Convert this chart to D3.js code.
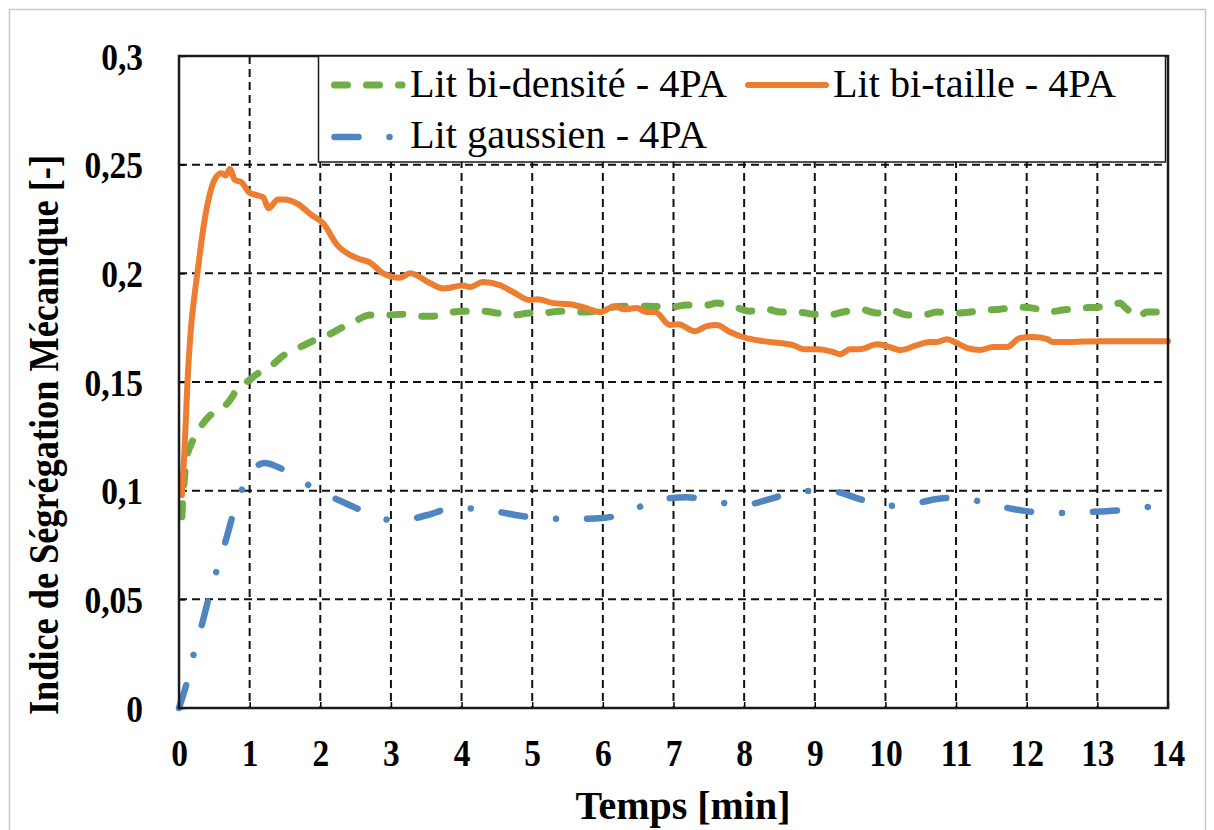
<!DOCTYPE html>
<html><head><meta charset="utf-8">
<script src="https://cdn.jsdelivr.net/npm/d3@7"></script>
<style>
body{margin:0;background:#fff}
svg{display:block}
text{font-family:"Liberation Serif","Times New Roman",serif;fill:#000}
</style>
</head><body>
<svg id="c" width="1214" height="830"></svg>
<script>
// ---- data ----
const xTicks = [0,1,2,3,4,5,6,7,8,9,10,11,12,13,14];
const yTicks = [0,0.05,0.1,0.15,0.2,0.25,0.3];
const yTickLabels = ["0","0,05","0,1","0,15","0,2","0,25","0,3"];
const seriesNames = ["Lit bi-densité - 4PA","Lit bi-taille - 4PA","Lit gaussien - 4PA"];

const bidensiteT = [0.04,0.07,0.11,0.18,0.3,0.42,0.55,0.68,0.75,0.82,0.96,1.12,1.29,1.47,1.68,1.9,2.11,2.32,2.52,2.7,2.94,3.17,3.41,3.6,3.84,4.02,4.3,4.5,4.73,4.97,5.15,5.39,5.63,5.78,6.06,6.29,6.67,6.95,7.19,7.47,7.61,7.84,8.08,8.32,8.51,8.75,8.98,9.19,9.4,9.64,9.88,10.07,10.31,10.53,10.73,10.96,11.2,11.44,11.62,11.86,12.09,12.29,12.51,12.75,13.0,13.18,13.32,13.39,13.58,13.7,14.0];
const bidensiteV = [0.088,0.103,0.115,0.122,0.129,0.134,0.137,0.140,0.143,0.147,0.150,0.154,0.157,0.162,0.1655,0.169,0.1716,0.1753,0.1785,0.1808,0.1808,0.1812,0.1803,0.1803,0.182,0.1826,0.1826,0.1817,0.1808,0.1817,0.1817,0.1826,0.1822,0.1822,0.184,0.1849,0.1849,0.1844,0.1854,0.1854,0.1863,0.1849,0.1826,0.1835,0.1822,0.1822,0.1812,0.1808,0.1822,0.1835,0.1817,0.1831,0.1808,0.1808,0.1822,0.1817,0.1822,0.1831,0.1835,0.1844,0.184,0.1822,0.1831,0.184,0.1844,0.1849,0.1863,0.1844,0.1799,0.1822,0.1822];

const bitailleT = [0.04,0.08,0.12,0.17,0.22,0.28,0.35,0.44,0.52,0.6,0.66,0.72,0.79,0.88,1.0,1.1,1.19,1.27,1.4,1.48,1.68,1.87,2.04,2.24,2.52,2.7,2.89,3.13,3.27,3.55,3.74,4.02,4.12,4.3,4.54,4.73,4.97,5.07,5.3,5.53,5.72,5.96,6.17,6.29,6.48,6.62,6.74,6.95,7.07,7.3,7.47,7.61,7.8,7.98,8.27,8.51,8.69,8.84,9.05,9.26,9.36,9.5,9.64,9.88,10.02,10.21,10.45,10.63,10.73,10.87,11.01,11.16,11.34,11.52,11.72,11.9,12.09,12.29,12.37,12.57,13.04,14.0];
const bitailleV = [0.098,0.12,0.15,0.175,0.19,0.205,0.222,0.237,0.244,0.246,0.245,0.248,0.243,0.242,0.237,0.236,0.235,0.230,0.234,0.234,0.232,0.227,0.223,0.213,0.207,0.205,0.200,0.198,0.200,0.1955,0.193,0.1944,0.1937,0.196,0.1946,0.1914,0.1877,0.1881,0.1863,0.1858,0.1844,0.1822,0.1849,0.1835,0.184,0.1822,0.1822,0.1762,0.1766,0.1734,0.1757,0.1762,0.173,0.1707,0.1688,0.1679,0.167,0.1651,0.1651,0.1638,0.1628,0.1651,0.1651,0.1674,0.1665,0.1647,0.167,0.1684,0.1684,0.1697,0.1679,0.1656,0.1647,0.1661,0.1661,0.1702,0.1707,0.1697,0.1684,0.1684,0.1688,0.1688];

const gaussienT = [0,0.11,0.21,0.33,0.42,0.54,0.67,0.77,0.92,1.05,1.22,1.39,1.57,1.93,2.32,2.68,3.09,3.52,3.88,4.3,4.76,5.11,5.55,6.0,6.34,6.77,7.19,7.55,7.98,8.41,8.76,9.22,9.64,9.99,10.43,10.87,11.23,11.66,12.09,12.47,12.91,13.35,13.72,14.0];
const gaussienV = [0,0.0115,0.025,0.039,0.0506,0.064,0.078,0.0897,0.1026,0.110,0.1127,0.111,0.108,0.1007,0.0948,0.0897,0.086,0.0888,0.092,0.0915,0.0888,0.0874,0.087,0.0874,0.090,0.0957,0.097,0.0952,0.0934,0.0966,0.0998,0.0998,0.0961,0.0929,0.0943,0.0966,0.0957,0.0925,0.0902,0.0897,0.0902,0.0911,0.0925,0.093];

// ---- layout ----
const L = 179, R = 1168, T = 56, B = 708;
const svg = d3.select("#c");
const x = d3.scaleLinear().domain([0,14]).range([L,R]);
const y = d3.scaleLinear().domain([0,0.3]).range([B,T]);

const colors = {green:"#70AD47", orange:"#ED7D31", blue:"#4F86C1"};
const styles = [
  {t:bidensiteT, v:bidensiteV, color:colors.green, width:7, dash:"13,19"},
  {t:bitailleT, v:bitailleV, color:colors.orange, width:6, dash:null},
  {t:gaussienT, v:gaussienV, color:colors.blue, width:6.5, dash:"24,31,0.01,31"}
];

function condense(sel, f){
  sel.each(function(){
    const w = this.getComputedTextLength();
    d3.select(this).attr("textLength", w*f).attr("lengthAdjust","spacingAndGlyphs");
  });
}

// outer frame
svg.append("rect").attr("x",9.5).attr("y",9.5).attr("width",1196).attr("height",830)
  .attr("fill","none").attr("stroke","#c8c8c8").attr("stroke-width",1.5);

// gridlines
const grid = svg.append("g");
grid.selectAll("line.v").data(xTicks.slice(1,-1)).join("line")
  .attr("x1",d=>x(d)).attr("x2",d=>x(d)).attr("y1",T).attr("y2",B)
  .attr("stroke","#111").attr("stroke-width",2).attr("stroke-dasharray","8,5");
grid.selectAll("line.h").data(yTicks.slice(1,-1)).join("line")
  .attr("x1",L).attr("x2",R).attr("y1",d=>y(d)).attr("y2",d=>y(d))
  .attr("stroke","#111").attr("stroke-width",2).attr("stroke-dasharray","8,5");

// axes
const xAxis = svg.append("g").attr("transform",`translate(0,${B})`)
  .call(d3.axisBottom(x).tickValues(xTicks).tickFormat(d=>d).tickSize(-6).tickPadding(0));
xAxis.select(".domain").remove();
xAxis.selectAll("line").attr("stroke","#000").attr("stroke-width",1.5);
xAxis.selectAll("text").attr("y",58).attr("dy",0)
  .attr("font-size",38).attr("font-weight","bold").attr("fill","#000")
  .style("font-family",'"Liberation Serif","Times New Roman",serif')
  .call(condense, 0.88);

const yAxis = svg.append("g").attr("transform",`translate(${L},0)`)
  .call(d3.axisLeft(y).tickValues(yTicks).tickFormat((d,i)=>yTickLabels[i]).tickSize(-6).tickPadding(36));
yAxis.select(".domain").remove();
yAxis.selectAll("line").attr("stroke","#000").attr("stroke-width",1.5);
yAxis.selectAll("text").attr("x",-36).attr("dy","0.35em")
  .attr("font-size",38).attr("font-weight","bold").attr("fill","#000")
  .style("font-family",'"Liberation Serif","Times New Roman",serif')
  .call(condense, 0.88);

// series
const line = d3.line().x(d=>x(d[0])).y(d=>y(d[1])).curve(d3.curveMonotoneX);
const plot = svg.append("g");
styles.forEach(s=>{
  const pts = s.t.map((t,i)=>[t,s.v[i]]);
  plot.append("path").attr("d",line(pts)).attr("fill","none")
    .attr("stroke",s.color).attr("stroke-width",s.width)
    .attr("stroke-linecap","round").attr("stroke-linejoin","round")
    .attr("stroke-dasharray",s.dash);
});

// plot frame
svg.append("rect").attr("x",L).attr("y",T).attr("width",R-L).attr("height",B-T)
  .attr("fill","none").attr("stroke","#1a1a1a").attr("stroke-width",2.5);

// legend
const lg = svg.append("g");
lg.append("rect").attr("x",318.5).attr("y",56).attr("width",847).attr("height",106)
  .attr("fill","#fff").attr("stroke","#1a1a1a").attr("stroke-width",1.5);
const legendItems = [
  {s:styles[0], lx:334.5, lx2:402, ly:85, tx:410, ty:97, w:317},
  {s:styles[1], lx:748, lx2:826, ly:85, tx:833, ty:97, w:283},
  {s:styles[2], lx:334.5, lx2:395, ly:137, tx:410, ty:148, w:297}
];
legendItems.forEach((it,i)=>{
  lg.append("line").attr("x1",it.lx).attr("x2",it.lx2).attr("y1",it.ly).attr("y2",it.ly)
    .attr("stroke",it.s.color).attr("stroke-width",it.s.width)
    .attr("stroke-linecap","round").attr("stroke-dasharray",it.s.dash);
  lg.append("text").attr("x",it.tx).attr("y",it.ty).attr("font-size",40)
    .attr("textLength",it.w).attr("lengthAdjust","spacingAndGlyphs")
    .text(seriesNames[i]);
});

// axis titles
svg.append("text").attr("x",683).attr("y",819).attr("text-anchor","middle")
  .attr("font-size",40).attr("font-weight","bold")
  .attr("textLength",215).attr("lengthAdjust","spacingAndGlyphs")
  .text("Temps [min]");
svg.append("text").attr("transform","translate(58,435) rotate(-90)")
  .attr("text-anchor","middle").attr("font-size",42).attr("font-weight","bold")
  .attr("textLength",560).attr("lengthAdjust","spacingAndGlyphs")
  .text("Indice de Ségrégation Mécanique [-]");
</script>
</body></html>
